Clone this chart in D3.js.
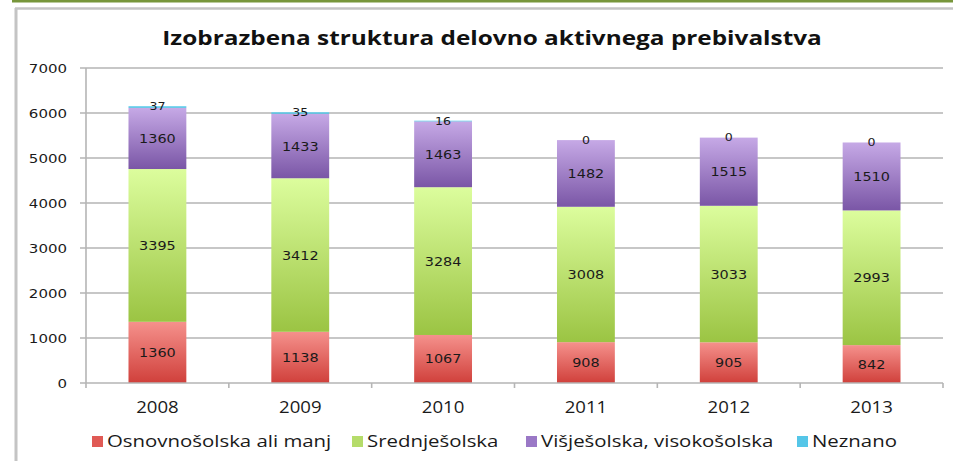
<!DOCTYPE html>
<html>
<head>
<meta charset="utf-8">
<script src="https://cdn.jsdelivr.net/npm/d3@7"></script>
<style>
  html, body { margin: 0; padding: 0; background: #fff; }
  svg { display: block; }
</style>
</head>
<body>
<svg id="chart" width="953" height="461"></svg>
<script>
// ---- data ----
const years = ["2008", "2009", "2010", "2011", "2012", "2013"];
const osnovnosolska = [1360, 1138, 1067, 908, 905, 842];
const srednjesolska = [3395, 3412, 3284, 3008, 3033, 2993];
const visjesolska = [1360, 1433, 1463, 1482, 1515, 1510];
const neznano = [37, 35, 16, 0, 0, 0];
const seriesNames = ["Osnovnošolska ali manj", "Srednješolska", "Višješolska, visokošolska", "Neznano"];
const yTicks = [0, 1000, 2000, 3000, 4000, 5000, 6000, 7000];
const title = "Izobrazbena struktura delovno aktivnega prebivalstva";

const seriesValues = [osnovnosolska, srednjesolska, visjesolska, neznano];
const gradients = [
  ["#f5918c", "#d0403b"],
  ["#dcfd9d", "#9bc443"],
  ["#c6a9e6", "#7a56a6"],
  ["#6fd3ef", "#45bde0"]
];
const legendColors = ["#e05a55", "#b5dc6a", "#9a78c6", "#55c6e8"];

const W = 953, H = 461;
const SX = 1.2; // horizontal stretch of the original rendering
const svg = d3.select("#chart");

// frame
svg.append("rect").attr("x", 12).attr("y", 0).attr("width", W - 12).attr("height", 2.5).attr("fill", "#77963b");
svg.append("line").attr("x1", 15).attr("x2", W).attr("y1", 8.5).attr("y2", 8.5).attr("stroke", "#c4c4c4").attr("stroke-width", 2.5);
svg.append("line").attr("x1", 16).attr("x2", 16).attr("y1", 8).attr("y2", H).attr("stroke", "#c4c4c4").attr("stroke-width", 3);

const x = d3.scaleBand().domain(years).range([86, 943]).paddingInner(0.595).paddingOuter(0.2975);
const y = d3.scaleLinear().domain([0, 7000]).range([383, 68]);

const defs = svg.append("defs");
gradients.forEach((g, i) => {
  const lg = defs.append("linearGradient").attr("id", "grad" + i)
    .attr("x1", 0).attr("y1", 0).attr("x2", 0).attr("y2", 1);
  lg.append("stop").attr("offset", "0%").attr("stop-color", g[0]);
  lg.append("stop").attr("offset", "100%").attr("stop-color", g[1]);
});

// gridlines
svg.append("g").selectAll("line").data(yTicks.slice(1)).join("line")
  .attr("x1", 80).attr("x2", 943)
  .attr("y1", d => y(d)).attr("y2", d => y(d))
  .attr("stroke", "#b5b5b5").attr("stroke-width", 1.6);

// y axis line
svg.append("line").attr("x1", 86).attr("x2", 86).attr("y1", y(7000)).attr("y2", y(0))
  .attr("stroke", "#b5b5b5").attr("stroke-width", 1.6);

// y tick labels
svg.append("g").selectAll("text").data(yTicks).join("text")
  .attr("transform", d => `translate(67,${y(d) + 4.5}) scale(${SX},1)`)
  .attr("text-anchor", "end")
  .attr("font-family", "DejaVu Sans, Verdana, sans-serif")
  .attr("font-size", 12.5)
  .attr("fill", "#1a1a1a")
  .text(d => d);

// stack
const table = years.map((yr, i) => {
  const o = { year: yr };
  seriesNames.forEach((n, s) => o[n] = seriesValues[s][i]);
  return o;
});
const stacked = d3.stack().keys(seriesNames)(table);

const layers = svg.append("g").selectAll("g").data(stacked).join("g")
  .attr("fill", (d, i) => `url(#grad${i})`);
layers.selectAll("rect").data(d => d).join("rect")
  .attr("x", d => x(d.data.year))
  .attr("width", x.bandwidth())
  .attr("y", d => y(d[1]))
  .attr("height", d => y(d[0]) - y(d[1]));

// x axis
svg.append("line").attr("x1", 80).attr("x2", 943).attr("y1", y(0)).attr("y2", y(0))
  .attr("stroke", "#b5b5b5").attr("stroke-width", 1.6);
const bounds = years.map(yr => x(yr) - x.step() * x.paddingInner() / 2);
bounds.push(943);
svg.append("g").selectAll("line").data(bounds).join("line")
  .attr("x1", d => d).attr("x2", d => d)
  .attr("y1", y(0)).attr("y2", y(0) + 5)
  .attr("stroke", "#b5b5b5").attr("stroke-width", 1.6);

svg.append("g").selectAll("text").data(years).join("text")
  .attr("transform", d => `translate(${x(d) + x.bandwidth() / 2},413) scale(${SX},1)`)
  .attr("text-anchor", "middle")
  .attr("font-family", "Open Sans, sans-serif")
  .attr("font-size", 15.5)
  .attr("fill", "#1a1a1a")
  .text(d => d);

// value labels
stacked.forEach((layer, s) => {
  svg.append("g").selectAll("text").data(layer).join("text")
    .attr("transform", d => `translate(${x(d.data.year) + x.bandwidth() / 2},${y((d[0] + d[1]) / 2) + (s === 3 ? 3.5 : 4.5)}) scale(${SX},1)`)
    .attr("text-anchor", "middle")
    .attr("font-family", "DejaVu Sans, Verdana, sans-serif")
    .attr("font-size", s === 3 ? 10.5 : 12)
    .attr("fill", "#1a1a1a")
    .text(d => d[1] - d[0]);
});

// title
svg.append("text")
  .attr("transform", `translate(492,45) scale(${SX},1)`)
  .attr("text-anchor", "middle")
  .attr("font-family", "Open Sans, sans-serif")
  .attr("font-weight", 700)
  .attr("font-size", 20.3)
  .attr("fill", "#111")
  .text(title);

// legend
const legendX = [92, 352, 526, 797];
const lg = svg.append("g").selectAll("g").data(seriesNames).join("g")
  .attr("transform", (d, i) => `translate(${legendX[i]},436)`);
lg.append("rect").attr("width", 11).attr("height", 11).attr("fill", (d, i) => legendColors[i]);
lg.append("text")
  .attr("transform", `translate(15,11) scale(${SX},1)`)
  .attr("font-family", "Open Sans, sans-serif")
  .attr("font-size", 17)
  .attr("fill", "#1a1a1a")
  .text(d => d);
</script>
</body>
</html>
